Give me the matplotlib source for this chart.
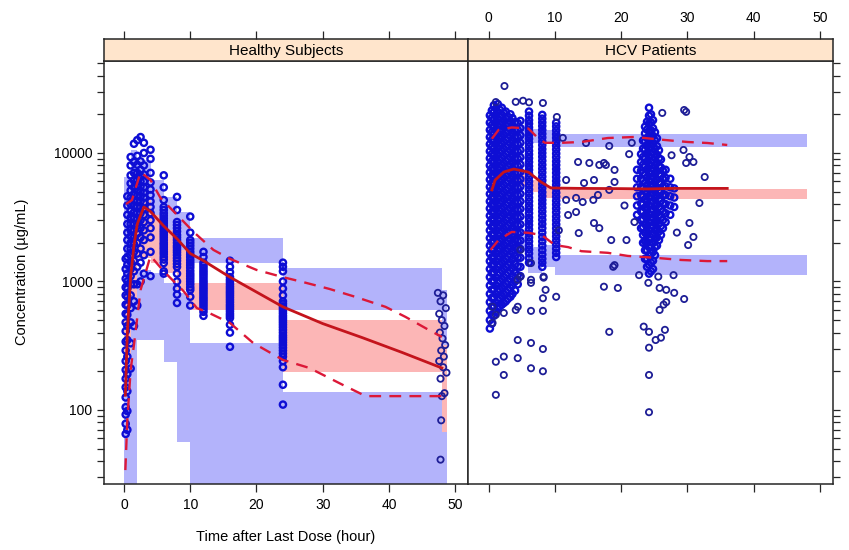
import matplotlib
matplotlib.use('Agg')
import matplotlib.pyplot as plt
from matplotlib.ticker import FixedLocator, LogLocator, NullFormatter
import numpy as np

plt.rcParams['font.family'] = ['Liberation Sans', 'DejaVu Sans']

# ---------------- Healthy subjects: simulated CI bands per time bin ----------------
hs_edges = [0, 1, 2, 4, 6, 8, 10, 24, 48, 48.8]
hs_p95_lo = [860, 2520, 2610, 2300, 1920, 1610, 1390, 600, 320]
hs_p95_hi = [6500, 10550, 8820, 6170, 4550, 3470, 2180, 1270, 860]
hs_p50_lo = [245, 718, 1520, 1390, 1165, 860, 600, 198, 67]
hs_p50_hi = [860, 2520, 4310, 3290, 2520, 1760, 973, 502, 320]
hs_p05_lo = [1, 1, 350, 350, 236, 56, 1, 1, 1]
hs_p05_hi = [245, 718, 1230, 1165, 973, 814, 332, 138, 67]

# observed percentiles
hs_med_t = [0.2, 0.5, 1, 1.5, 2, 3, 4, 6, 8, 10, 12, 16, 24, 30, 36, 42, 48]
hs_med_c = [130, 400, 1100, 1900, 2800, 3800, 3500, 2700, 2150, 1650, 1450, 1080, 634, 470, 365, 280, 212]
hs_hi_t = [0.3, 1.2, 2.5, 4, 5.5, 8, 10.5, 13.5, 16, 20, 24, 27, 31, 35, 39.5, 42.5, 46, 48]
hs_hi_c = [4000, 4300, 7100, 6160, 4470, 3300, 2430, 1760, 1500, 1230, 1080, 990, 875, 757, 634, 530, 420, 370]
hs_lo_t = [0.2, 0.5, 1, 1.5, 2.5, 4, 6, 9, 11, 12.5, 16, 19.5, 24, 28, 33, 36.5, 48]
hs_lo_c = [34, 84, 205, 321, 860, 1580, 1200, 840, 620, 580, 475, 332, 245, 212, 157, 128, 128]

# observed concentrations by nominal time
hs_obs_t = [0.25, 0.5, 1, 1.5, 2, 2.5, 3, 4, 6, 8, 10, 12, 16, 24]
hs_obs_c = [
    [65, 78, 92, 105, 125, 150, 175, 205, 240, 290, 340, 410, 480, 560, 660, 780, 900, 1050, 1250, 1500],
    [70, 98, 140, 190, 260, 350, 450, 550, 650, 760, 880, 1000, 1150, 1350, 1550, 1800, 2100, 2400, 2800, 3300, 3900, 4600],
    [210, 330, 480, 620, 780, 950, 1100, 1250, 1420, 1600, 1800, 2000, 2250, 2500, 2800, 3150, 3550, 4000, 4500, 5100, 5800, 6700, 8000, 9300],
    [450, 700, 950, 1200, 1450, 1700, 1950, 2200, 2500, 2800, 3100, 3450, 3850, 4300, 4800, 5400, 6100, 7000, 8500, 11800],
    [650, 950, 1300, 1650, 2000, 2350, 2700, 3050, 3400, 3800, 4200, 4650, 5100, 5600, 6200, 7000, 8100, 9500, 12600],
    [1000, 1400, 1800, 2200, 2600, 3000, 3400, 3800, 4200, 4600, 5000, 5500, 6000, 6600, 7400, 8600, 13300],
    [1150, 1600, 2100, 2500, 2900, 3300, 3700, 4100, 4500, 4900, 5400, 6000, 6800, 8000, 10000, 12000],
    [1100, 1700, 2200, 2600, 3000, 3400, 3800, 4200, 4700, 5200, 5900, 7000, 9000, 10600],
    [1150, 1200, 1390, 1480, 1550, 1630, 1700, 1780, 1850, 1930, 2000, 2100, 2200, 2300, 2400, 2500, 2600, 2720, 2850, 2970, 3100, 3250, 3400, 3600, 3800, 4300, 5400, 6700],
    [680, 790, 880, 1000, 1150, 1300, 1370, 1450, 1520, 1600, 1680, 1750, 1830, 1900, 2000, 2100, 2200, 2300, 2450, 2600, 2750, 2900, 3600, 4550],
    [650, 760, 860, 900, 950, 1000, 1050, 1100, 1150, 1210, 1280, 1340, 1400, 1470, 1550, 1620, 1700, 1800, 1900, 2000, 2100, 2400, 3200],
    [540, 580, 610, 640, 670, 700, 730, 760, 795, 830, 865, 900, 940, 980, 1020, 1070, 1120, 1170, 1220, 1280, 1340, 1400, 1550, 1700],
    [310, 400, 460, 520, 540, 560, 585, 610, 635, 660, 690, 720, 750, 780, 810, 840, 875, 910, 950, 990, 1030, 1080, 1180, 1300, 1450],
    [110, 157, 215, 240, 260, 275, 290, 305, 320, 335, 350, 365, 380, 400, 420, 440, 460, 480, 500, 520, 540, 565, 590, 615, 640, 670, 700, 780, 880, 1000, 1200, 1300, 1400],
]
hs_t48 = [47.4, 48.2, 47.8, 48.6, 47.6, 48.0, 48.4, 47.7, 48.1, 48.5, 47.9, 48.3, 47.6, 48.2, 48.7, 47.8, 48.4, 48.0, 47.9, 47.8]
hs_c48 = [815, 780, 700, 620, 560, 500, 450, 400, 360, 320, 290, 260, 240, 215, 195, 175, 135, 128, 83, 41]

# ---------------- HCV patients ----------------
hcv_edges = [0, 1, 2, 4, 6, 8, 10, 48]
hcv_p95_lo = [12000, 13000, 13000, 12500, 12000, 12200, 11100]
hcv_p95_hi = [17000, 18000, 17500, 16500, 15500, 15100, 14000]
hcv_p50_lo = [4500, 5500, 6000, 5500, 5000, 4500, 4400]
hcv_p50_hi = [6500, 7500, 7800, 7000, 6200, 5500, 5200]
hcv_p05_lo = [1200, 1500, 1700, 1700, 1160, 1300, 1125]
hcv_p05_hi = [2000, 2400, 2600, 2500, 1870, 1920, 1600]

hcv_med_t = [0.5, 1, 2.3, 3.8, 6, 7.9, 9.4, 14, 20, 24, 28, 36]
hcv_med_c = [5160, 6160, 7110, 7500, 7100, 5950, 5340, 5300, 5280, 5250, 5300, 5300]
hcv_hi_t = [0.5, 1.5, 3.5, 6, 7.5, 8.5, 11, 14, 18, 22, 26, 30, 33, 36]
hcv_hi_c = [12900, 15100, 15800, 15500, 13000, 12000, 12000, 12180, 13080, 13320, 12700, 12180, 11960, 11540]
hcv_lo_t = [0.3, 1.5, 3.5, 6, 8, 10, 12, 14, 18, 21, 25, 29, 33, 36]
hcv_lo_c = [1760, 2100, 2430, 2390, 2300, 1920, 1850, 1720, 1670, 1580, 1530, 1470, 1440, 1440]

# dense columns of observations (early sampling, 6/8/10 h, and around 24 h)
hcv_col_t = [0.2, 0.5, 0.8, 1.1, 1.4, 1.7, 2.0, 2.3, 2.6, 2.9, 3.3, 3.6, 4.0, 4.4, 4.8,
             6.1, 6.1, 8.1, 8.1, 10.2, 10.2,
             22.4, 23.0, 23.3, 23.6, 23.9, 24.2, 24.5, 24.8, 25.1, 25.4, 25.7, 26.0, 26.3, 26.7, 27.4, 28.0]
hcv_col_c = [
    [430, 500, 590, 690, 800, 930, 1080, 1250, 1440, 1650, 1900, 2180, 2500, 2850, 3250, 3700, 4200, 4800, 5450, 6200, 7050, 8000, 9100, 10300, 11700, 13300, 15100, 17200, 19600],
    [470, 550, 640, 745, 865, 1005, 1165, 1345, 1540, 1770, 2030, 2330, 2670, 3050, 3480, 3970, 4520, 5150, 5860, 6670, 7590, 8640, 9830, 11200, 12700, 14500, 16500, 18800, 21400],
    [540, 640, 750, 870, 1010, 1170, 1350, 1550, 1780, 2040, 2330, 2660, 3030, 3450, 3930, 4470, 5080, 5780, 6570, 7470, 8500, 9650, 10950, 12450, 14150, 16100, 18300, 20800, 23500],
    [580, 680, 795, 925, 1070, 1240, 1430, 1645, 1890, 2165, 2475, 2830, 3220, 3670, 4180, 4760, 5420, 6160, 7010, 7970, 9060, 10300, 11700, 13300, 15100, 17200, 19500, 22200],
    [620, 720, 840, 980, 1130, 1310, 1510, 1740, 2000, 2290, 2620, 3000, 3420, 3900, 4450, 5060, 5760, 6550, 7450, 8470, 9630, 10950, 12450, 14150, 16100, 18300, 20800, 24000],
    [640, 745, 870, 1015, 1175, 1360, 1570, 1810, 2080, 2385, 2730, 3120, 3560, 4060, 4630, 5270, 6000, 6830, 7770, 8830, 10050, 11400, 13000, 14800, 16800, 19100, 21700],
    [660, 770, 900, 1050, 1220, 1410, 1630, 1880, 2160, 2480, 2840, 3250, 3710, 4230, 4820, 5490, 6250, 7110, 8090, 9200, 10450, 11900, 13500, 15400, 17500, 19900, 22500],
    [680, 795, 930, 1085, 1260, 1455, 1680, 1935, 2225, 2555, 2925, 3345, 3820, 4360, 4970, 5660, 6440, 7330, 8340, 9490, 10800, 12250, 13900, 15850, 18000, 20500],
    [700, 820, 960, 1120, 1300, 1500, 1730, 1990, 2290, 2630, 3010, 3440, 3930, 4490, 5120, 5830, 6640, 7560, 8600, 9780, 11100, 12600, 14300, 16300, 18500, 21000],
    [730, 855, 1000, 1165, 1350, 1560, 1800, 2070, 2380, 2730, 3120, 3570, 4080, 4660, 5310, 6050, 6890, 7840, 8920, 10150, 11500, 13100, 14900, 16900, 19200],
    [760, 890, 1040, 1210, 1400, 1620, 1870, 2150, 2470, 2830, 3240, 3700, 4230, 4830, 5500, 6270, 7140, 8130, 9250, 10500, 11950, 13600, 15450, 17550, 20000],
    [800, 940, 1100, 1280, 1490, 1720, 1990, 2290, 2630, 3010, 3450, 3940, 4500, 5130, 5850, 6660, 7590, 8640, 9820, 11150, 12700, 14400, 16400, 18700],
    [850, 1000, 1170, 1360, 1580, 1830, 2110, 2430, 2790, 3200, 3660, 4180, 4770, 5440, 6200, 7060, 8040, 9150, 10400, 11850, 13450, 15300, 17400],
    [950, 1120, 1310, 1530, 1780, 2060, 2380, 2740, 3150, 3600, 4120, 4700, 5360, 6110, 6960, 7930, 9030, 10280, 11700, 13300, 15100, 17100],
    [1100, 1300, 1530, 1790, 2080, 2410, 2780, 3200, 3670, 4200, 4800, 5480, 6250, 7130, 8130, 9260, 10550, 12000, 13700, 15600, 17800],
    [1400, 1650, 1900, 2200, 2550, 2950, 3400, 3900, 4500, 5200, 6000, 6900, 7900, 9100, 10400, 12000, 13800, 15800, 18000, 21000],
    [1520, 1770, 2050, 2370, 2750, 3150, 3650, 4200, 4850, 5600, 6450, 7400, 8500, 9750, 11200, 12900, 14800, 16900, 19500],
    [1300, 1500, 1750, 2050, 2400, 2800, 3250, 3750, 4300, 4950, 5700, 6550, 7550, 8700, 10000, 11500, 13200, 15100, 17300, 19800],
    [1400, 1620, 1900, 2220, 2600, 3020, 3500, 4020, 4620, 5320, 6120, 7050, 8100, 9350, 10700, 12300, 14100, 16200, 18500],
    [1550, 1800, 2080, 2400, 2780, 3200, 3700, 4250, 4900, 5650, 6500, 7500, 8600, 9900, 11400, 13100, 15000, 17200],
    [1670, 1940, 2240, 2590, 2990, 3450, 3970, 4570, 5270, 6060, 7000, 8050, 9250, 10650, 12200, 14000, 16100],
    [3300, 3900, 4600, 5400, 6300, 7400],
    [2600, 3000, 3500, 4050, 4700, 5450, 6300, 7300, 8500, 9800],
    [2000, 2300, 2650, 3050, 3500, 4000, 4600, 5300, 6100, 7000, 8100, 9300, 10800, 12500],
    [1500, 1750, 2050, 2400, 2800, 3250, 3750, 4350, 5050, 5850, 6800, 7900, 9100, 10600, 12300, 14200, 16000],
    [1300, 1500, 1750, 2000, 2300, 2650, 3100, 3600, 4150, 4800, 5500, 6400, 7400, 8500, 9800, 11300, 13100, 15200, 17500],
    [1150, 1350, 1600, 1850, 2150, 2500, 2900, 3350, 3900, 4500, 5250, 6100, 7050, 8200, 9500, 11000, 12800, 14800, 17000, 19500, 22500],
    [1200, 1400, 1650, 1900, 2200, 2600, 3000, 3500, 4050, 4650, 5400, 6250, 7250, 8400, 9700, 11200, 13000, 15000, 17300, 20000],
    [1250, 1450, 1700, 2000, 2300, 2700, 3100, 3600, 4200, 4850, 5600, 6500, 7550, 8750, 10100, 11700, 13600, 15600, 18000],
    [1600, 1850, 2150, 2500, 2900, 3350, 3900, 4500, 5200, 6000, 6950, 8050, 9300, 10800, 12500, 14500],
    [1900, 2200, 2550, 2950, 3450, 4000, 4650, 5400, 6250, 7250, 8400, 9700, 11300, 13000],
    [2100, 2450, 2850, 3300, 3800, 4400, 5100, 5900, 6850, 7900, 9100, 10500],
    [2300, 2700, 3150, 3650, 4250, 4950, 5750, 6650, 7700, 8900],
    [2600, 3000, 3500, 4050, 4700, 5450, 6300, 7300],
    [2900, 3400, 4000, 4700, 5500, 6400, 7400],
    [3300, 3900, 4600, 5400, 6300],
    [3800, 4500, 5300],
]
# scattered single observations
hcv_sp_t = [2.4, 1.1, 4.1, 5.2, 6.1, 8.2, 10.3, 11.2, 14.7, 18.2, 15.2, 16.7, 17.4, 19.0, 11.7,
            14.4, 11.7, 13.2, 14.2, 15.8, 16.5, 12.0, 13.2, 13.6, 15.9, 16.7, 18.5, 18.8, 18.2,
            29.4, 29.8, 29.5, 31.8, 32.6, 30.9, 30.3, 29.8, 26.2, 30.3, 30.9, 17.7, 19.0, 20.8,
            19.0, 30.1, 13.5, 15.9, 21.2, 20.5,
            1.1, 2.3, 1.1, 2.3, 4.4, 6.4, 8.2, 4.4, 6.4, 8.2, 0.6, 2.3, 1.1, 4.4, 6.4, 8.2, 0.6,
            8.2, 10.2, 8.6, 8.3, 6.4, 6.4, 4.4, 17.4, 19.5, 18.2, 23.4, 24.2, 25.2, 26.0, 26.6,
            24.2, 24.2, 24.2, 22.7, 24.1, 25.6, 25.8, 26.8, 28.0, 27.9, 29.5, 25.8, 26.4, 26.8,
            4.8, 4.8, 6.4, 8.3, 4.1, 10.6, 21.6, 22.0, 27.6, 28.4]
hcv_sp_c = [33200, 24900, 25000, 25500, 24800, 24500, 19060, 13100, 11960, 11340, 8360, 8070, 8360, 7380, 6160,
            5840, 4310, 4470, 4150, 4310, 4710, 3290, 3470, 2380, 2850, 2600, 2100, 1300, 5160,
            10550, 8360, 21600, 4080, 6500, 2220, 2850, 20900, 20500, 9300, 8510, 8070, 5950, 2100,
            1340, 1920, 8510, 6160, 9800, 3900,
            131, 187, 237, 260, 253, 211, 200, 350, 332, 298, 635, 568, 550, 635, 590, 590, 476,
            740, 760, 860, 1070, 1030, 1390, 1030, 910, 890, 405, 445, 405, 350, 365, 420,
            305, 187, 96, 1120, 975, 1090, 890, 860, 815, 1120, 730, 600, 660, 690,
            1760, 1090, 975, 1090, 600, 2500, 12000, 2900, 9600, 2400]

x_ticks = [0, 10, 20, 30, 40, 50]

BLUE_BAND = '#b3b3fb'
PINK_BAND = '#fcb6b6'
DENSE_COL = '#0e0ed4'
SPARSE_COL = '#1e1e96'
MED_COL = '#c4141c'
PCT_COL = '#dc1838'
FRAME = '#262626'

W, H = 849, 550
fig = plt.figure(figsize=(W / 100, H / 100), dpi=100)


def px_axes(x0, y0, x1, y1):
    return fig.add_axes([x0 / W, 1 - y1 / H, (x1 - x0) / W, (y1 - y0) / H])


def panel(x0, x1, edges, bands, med, hi, lo, pts, title, left, top_labels):
    ax = px_axes(x0, 61, x1, 484)
    sax = px_axes(x0, 39, x1, 61)
    for blo, bhi, col in bands:
        ax.stairs(bhi, edges, baseline=blo, fill=True, color=col, lw=0, zorder=1)
    # dense columns get a heavier ring so overlapping circles merge as in the original
    for (pt, pc), lw, col in zip(pts, (1.7, 1.3), (DENSE_COL, SPARSE_COL)):
        ax.scatter(pt, pc, s=20, facecolors='none', edgecolors=col, linewidths=lw, zorder=3)
    ax.plot(med[0], med[1], color=MED_COL, lw=2.0, zorder=4)
    for xs, ys in (hi, lo):
        ax.plot(xs, ys, color=PCT_COL, lw=1.7, dashes=(5, 3.5), zorder=4)
    ax.set_yscale('log')
    ax.set_xlim(-3.1, 51.95)
    ax.set_ylim(26.5, 52000)
    ax.xaxis.set_major_locator(FixedLocator(x_ticks))
    ax.yaxis.set_major_locator(FixedLocator([100, 1000, 10000]))
    ax.yaxis.set_minor_locator(LogLocator(base=10, subs=np.arange(2, 10)))
    ax.yaxis.set_minor_formatter(NullFormatter())
    ax.set_yticklabels(['100', '1000', '10000'])
    ax.tick_params(axis='x', direction='out', length=6, width=0.9, colors=FRAME,
                   labelsize=10, labelcolor='black', bottom=True, top=False,
                   labelbottom=not top_labels, pad=4)
    ax.tick_params(axis='y', which='both', direction='out', length=5, width=0.9, colors=FRAME,
                   labelsize=10, labelcolor='black', left=left, right=not left,
                   labelleft=left, labelright=False, pad=3)
    for sp in ax.spines.values():
        sp.set_color(FRAME)
        sp.set_linewidth(1.1)

    sax.set_facecolor('#ffe5cc')
    sax.set_xlim(-3.1, 51.95)
    sax.set_yticks([])
    sax.xaxis.set_major_locator(FixedLocator(x_ticks))
    sax.tick_params(axis='x', direction='out', length=6, width=0.9, colors=FRAME,
                    labelsize=10, labelcolor='black', bottom=False, labelbottom=False,
                    top=True, labeltop=top_labels, pad=4)
    for sp in sax.spines.values():
        sp.set_color(FRAME)
        sp.set_linewidth(1.1)
    sax.text(0.5, 0.45, title, transform=sax.transAxes, ha='center', va='center', fontsize=11)
    return ax


hs_pts = [(np.repeat(hs_obs_t, [len(c) for c in hs_obs_c]), np.concatenate(hs_obs_c)),
          (hs_t48, hs_c48)]
hs_bands = [(hs_p95_lo, hs_p95_hi, BLUE_BAND), (hs_p05_lo, hs_p05_hi, BLUE_BAND),
            (hs_p50_lo, hs_p50_hi, PINK_BAND)]
ax1 = panel(103.5, 468, hs_edges, hs_bands, (hs_med_t, hs_med_c), (hs_hi_t, hs_hi_c),
            (hs_lo_t, hs_lo_c), hs_pts, 'Healthy Subjects', True, False)

hcv_pts = [(np.repeat(hcv_col_t, [len(c) for c in hcv_col_c]), np.concatenate(hcv_col_c)),
           (hcv_sp_t, hcv_sp_c)]
hcv_bands = [(hcv_p95_lo, hcv_p95_hi, BLUE_BAND), (hcv_p05_lo, hcv_p05_hi, BLUE_BAND),
             (hcv_p50_lo, hcv_p50_hi, PINK_BAND)]
ax2 = panel(468, 833, hcv_edges, hcv_bands, (hcv_med_t, hcv_med_c), (hcv_hi_t, hcv_hi_c),
            (hcv_lo_t, hcv_lo_c), hcv_pts, 'HCV Patients', False, True)

fig.text(22 / W, 1 - 272 / H, 'Concentration (\u00b5g/mL)', rotation=90,
         ha='center', va='center', fontsize=10.5)
fig.text(286 / W, 1 - 537 / H, 'Time after Last Dose (hour)', ha='center', va='center',
         fontsize=10.5)

fig.savefig('out.png', dpi=100)
